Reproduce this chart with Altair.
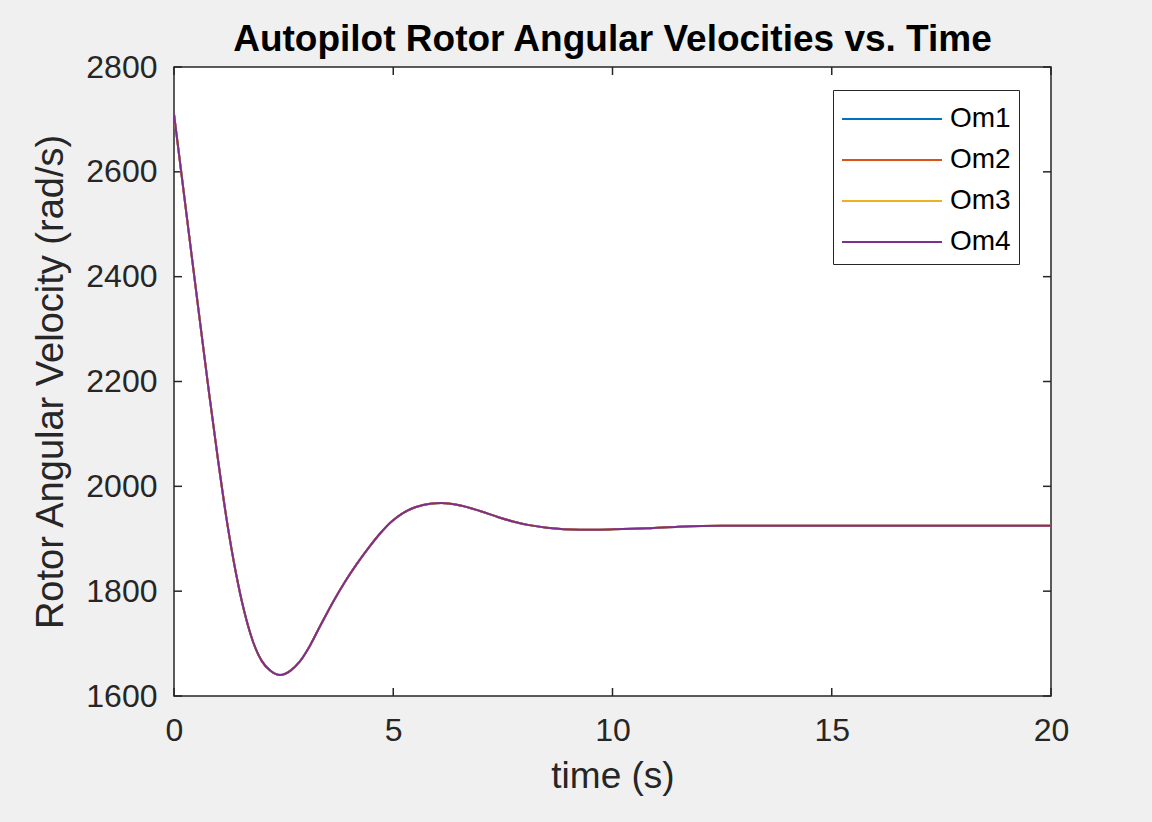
import altair as alt
import pandas as pd

# ---- data ----
time_s = [0, 0.2, 0.4, 0.6, 0.8, 1.0, 1.2, 1.4, 1.6, 1.8, 2.0, 2.2, 2.42, 2.65, 2.87,
          3.1, 3.33, 3.63, 3.9, 4.17, 4.45, 4.7, 4.95, 5.22, 5.5, 5.84, 6.1, 6.45,
          6.98, 7.4, 7.73, 8.1, 8.5, 9.26, 10.0, 10.8, 11.5, 12.5, 14, 16, 18, 20]
om1 = [2710, 2576, 2442, 2309, 2178, 2053, 1937, 1840, 1762, 1704, 1667, 1648, 1640, 1648, 1666,
       1696, 1733, 1780, 1818, 1852, 1884, 1910, 1932, 1949, 1960, 1967, 1968, 1965,
       1953, 1941, 1933, 1926, 1921, 1917, 1918, 1920, 1923, 1925, 1925, 1925, 1925, 1925]
om2 = list(om1)
om3 = list(om1)
om4 = list(om1)

series_names = ["Om1", "Om2", "Om3", "Om4"]
series_colors = ["#0072BD", "#D95319", "#EDB120", "#7E2F8E"]
x_ticks = [0, 5, 10, 15, 20]
y_ticks = [1600, 1800, 2000, 2200, 2400, 2600, 2800]

rows = []
for name, vals in zip(series_names, [om1, om2, om3, om4]):
    for t, v in zip(time_s, vals):
        rows.append({"t": t, "omega": v, "series": name})
df = pd.DataFrame(rows)

W, H = 877, 629
TICK = 8
AX = "#262626"
FONT = "Liberation Sans"

x_scale = alt.Scale(domain=[0, 20], nice=False, zero=False)
y_scale = alt.Scale(domain=[1600, 2800], nice=False, zero=False)

lines = alt.Chart(df).mark_line(strokeWidth=2, interpolate="monotone", clip=True).encode(
    x=alt.X("t:Q", scale=x_scale,
            axis=alt.Axis(values=x_ticks, format="d", title="time (s)", grid=False,
                          domain=False, ticks=False, labelFlush=False, labelFontSize=32,
                          labelColor=AX, labelPadding=19, labelFont=FONT, titleFont=FONT,
                          titleFontSize=37, titleFontWeight="normal", titleColor=AX,
                          titlePadding=12)),
    y=alt.Y("omega:Q", scale=y_scale,
            axis=alt.Axis(values=y_ticks, format="d", title="Rotor Angular Velocity (rad/s)",
                          grid=False, domain=False, ticks=False, labelFlush=False,
                          labelFontSize=32, labelColor=AX, labelPadding=17, labelFont=FONT,
                          titleFont=FONT, titleFontSize=38, titleFontWeight="normal",
                          titleColor=AX, titlePadding=15, titleLimit=800)),
    color=alt.Color("series:N",
                    scale=alt.Scale(domain=series_names, range=series_colors),
                    legend=alt.Legend(title=None, orient="none", legendX=659, legendY=23,
                                      fillColor="white", strokeColor=AX, padding=8,
                                      symbolType="M-1,0H4", symbolSize=1600,
                                      symbolStrokeWidth=2, labelFontSize=28,
                                      labelFont=FONT, labelColor="black", labelOffset=67,
                                      rowPadding=6, cornerRadius=0)),
)

ytick_df = pd.DataFrame({"omega": y_ticks})
xtick_df = pd.DataFrame({"t": x_ticks})

yticks_left = alt.Chart(ytick_df).mark_rule(color=AX, strokeWidth=1.5).encode(
    y=alt.Y("omega:Q", scale=y_scale), x=alt.value(0), x2=alt.value(TICK))
yticks_right = alt.Chart(ytick_df).mark_rule(color=AX, strokeWidth=1.5).encode(
    y=alt.Y("omega:Q", scale=y_scale), x=alt.value(W - TICK), x2=alt.value(W))
xticks_bottom = alt.Chart(xtick_df).mark_rule(color=AX, strokeWidth=1.5).encode(
    x=alt.X("t:Q", scale=x_scale), y=alt.value(H - TICK), y2=alt.value(H))
xticks_top = alt.Chart(xtick_df).mark_rule(color=AX, strokeWidth=1.5).encode(
    x=alt.X("t:Q", scale=x_scale), y=alt.value(0), y2=alt.value(TICK))

chart = alt.layer(yticks_left, yticks_right, xticks_bottom, xticks_top, lines).properties(
    width=W, height=H,
    title=alt.TitleParams("Autopilot Rotor Angular Velocities vs. Time", fontSize=37,
                          fontWeight="bold", font=FONT, color="black", anchor="middle",
                          offset=12, dy=20),
    padding={"left": 174, "top": 67, "right": 101, "bottom": 126},
    autosize=alt.AutoSizeParams(type="none"),
    background="#f0f0f0",
).configure_view(fill="white", stroke=AX, strokeWidth=1.5)

chart.save("out.html", embed_options={"renderer": "svg", "actions": False})
